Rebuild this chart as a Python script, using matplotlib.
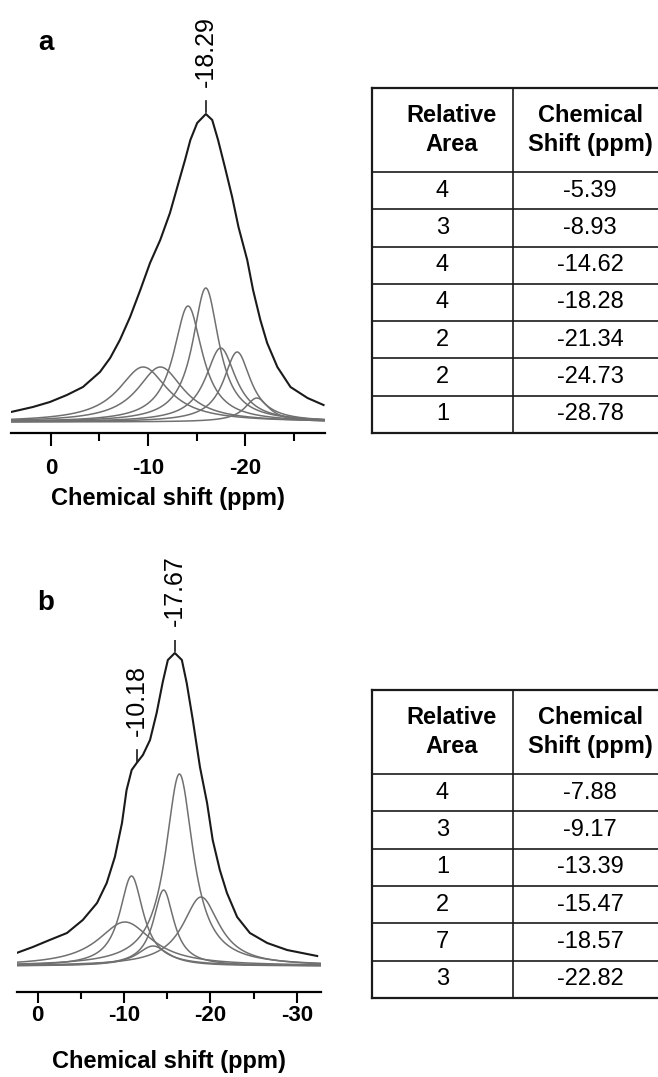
import numpy as np
import matplotlib
matplotlib.use('Agg')
import matplotlib.pyplot as plt

plt.rcParams['font.family'] = ['Liberation Sans', 'DejaVu Sans']

W, H = 658, 1077

#panel a: fitted components (shift and relative area as in the fit table)
a_shift = [-5.39, -8.93, -14.62, -18.28, -21.34, -24.73, -28.78]
a_area = [4, 3, 4, 4, 2, 2, 1]
#component heights (intensity) and full widths at half height (ppm)
a_height = [55, 55, 116, 134, 74, 70, 24]
a_fwhm = [12.4, 11.6, 7.2, 6.6, 7.6, 6.8, 6.0]
#measured spectrum (shift, intensity)
a_spec_x = [21.8, 17.3, 13.8, 10.3, 7.0, 3.5, 1.4, -0.6, -2.7, -4.8, -6.8, -8.9,
            -10.9, -13.0, -14.0, -15.1, -16.5, -18.29, -19.6, -20.8, -22.2, -23.7,
            -25.0, -26.8, -28.0, -29.5, -30.9, -33.0, -35.7, -39.2, -42.5]
a_spec_y = [10, 15, 20, 27, 35, 50, 64, 82, 105, 132, 159, 182,
            209, 245, 262, 282, 299, 308, 302, 282, 255, 225,
            195, 162, 132, 102, 79, 55, 35, 24, 17]
a_peaks = [-18.29]
a_ticks = [0, -10, -20]
a_minor = [-5, -15, -25]

#panel b
b_shift = [-7.88, -9.17, -13.39, -15.47, -18.57, -22.82]
b_area = [4, 3, 1, 2, 7, 3]
b_height = [44, 90, 20, 76, 192, 69]
b_fwhm = [13.0, 5.6, 7.6, 4.9, 6.6, 8.8]
b_spec_x = [13.4, 10.2, 6.9, 3.5, 0.4, -2.4, -4.3, -5.9, -7.3, -8.2, -9.2, -10.18,
            -11.4, -12.8, -14.1, -15.3, -16.3, -17.67, -19.05, -20.0, -21.2, -22.6,
            -24.0, -25.1, -26.5, -27.9, -29.9, -32.4, -35.8, -39.7, -45.6]
b_spec_y = [13, 19, 26, 33, 46, 63, 83, 109, 143, 176, 196, 203,
            211, 226, 253, 284, 306, 313, 306, 283, 246, 199,
            163, 126, 96, 73, 49, 33, 23, 16, 10]
b_peaks = [-10.18, -17.67]
b_ticks = [0, -10, -20, -30]
b_minor = [-5, -15, -25]

fig = plt.figure(figsize=(W / 100, H / 100), dpi=100)


def px_box(l, t, r, b):
    return [l / W, 1 - b / H, (r - l) / W, (b - t) / H]


def lorentz(x, c, h, fwhm):
    return h / (1 + ((x - c) / (fwhm / 2)) ** 2)


def draw_spectrum(box, ylim, scale, offset, xlim, shift, height, fwhm, spec_x, spec_y,
                  ticks, minor, peaks, tick_len, pad, labelpad):
    ax = fig.add_axes(px_box(*box))
    #axis scale -> shift used by the fit
    to_data = lambda v: (np.asarray(v, float) - offset) / scale
    lo, hi = to_data(xlim)
    x = np.linspace(hi, lo, 900)
    for c, h, w in zip(shift, height, fwhm):
        ax.plot(x, lorentz(x, c, h, w), color='#707070', lw=1.1)
    ax.plot(spec_x, spec_y, color='#1a1a1a', lw=1.5, solid_joinstyle='round')

    #peak markers
    for p in peaks:
        yp = np.interp(p, spec_x[::-1], spec_y[::-1])
        ax.plot([p, p], [yp + 2, yp + 13], color='#1a1a1a', lw=1.2)
        ax.text(p, yp + 27, '%.2f' % p, rotation=90, ha='center', va='bottom',
                fontsize=18)

    ax.set_xlim(lo, hi)
    ax.set_ylim(*ylim)
    for s in ['top', 'right', 'left']:
        ax.spines[s].set_visible(False)
    ax.spines['bottom'].set_linewidth(1.6)
    ax.set_yticks([])
    ax.set_xticks(to_data(ticks))
    ax.set_xticklabels([str(t) for t in ticks], fontsize=16, fontweight='bold')
    ax.set_xticks(to_data(minor), minor=True)
    ax.tick_params(axis='x', which='major', direction='out', length=tick_len,
                   width=1.5, pad=pad)
    ax.tick_params(axis='x', which='minor', direction='out', length=tick_len * 0.6,
                   width=1.5)
    ax.set_xlabel('Chemical shift (ppm)', fontsize=17, fontweight='bold',
                  labelpad=labelpad)
    return ax


def draw_table(box, areas, shifts):
    ax = fig.add_axes(px_box(*box))
    n = len(areas)
    head = 2.25
    split = 0.478
    ax.set_xlim(0, 1)
    ax.set_ylim(n + head, 0)
    ax.axis('off')
    kw = dict(color='#1a1a1a', clip_on=False)
    for y in [0, n + head]:
        ax.plot([0, 1], [y, y], lw=1.6, **kw)
    for i in range(n):
        ax.plot([0, 1], [head + i, head + i], lw=1.2, **kw)
    ax.plot([0, 0], [0, n + head], lw=1.6, **kw)
    ax.plot([split, split], [0, n + head], lw=1.2, **kw)

    ax.text(split / 2 + 0.03, head / 2, 'Relative\nArea', ha='center', va='center',
            fontsize=17, fontweight='bold', linespacing=1.3)
    ax.text((split + 1) / 2, head / 2, 'Chemical\nShift (ppm)', ha='center',
            va='center', fontsize=17, fontweight='bold', linespacing=1.3)
    for i, (ar, sh) in enumerate(zip(areas, shifts)):
        yc = head + i + 0.5
        ax.text(split / 2, yc, str(ar), ha='center', va='center', fontsize=17)
        ax.text((split + 1) / 2, yc, '%.2f' % sh, ha='center', va='center', fontsize=17)


draw_spectrum((11, 100, 325, 433), (-11, 322), 0.5, -6.8, (4.1, -28.2),
              a_shift, a_height, a_fwhm, a_spec_x, a_spec_y,
              a_ticks, a_minor, a_peaks, 9.5, 8.5, 6)
draw_table((372, 88, 667, 433), a_area, a_shift)

draw_spectrum((17, 640, 321, 992), (-26, 326), 0.59, -5.45, (2.4, -32.8),
              b_shift, b_height, b_fwhm, b_spec_x, b_spec_y,
              b_ticks, b_minor, b_peaks, 8, 1.5, 17)
draw_table((372, 690, 667, 998), b_area, b_shift)

#panel letters
fig.text(38 / W, 1 - 50 / H, 'a', fontsize=20, fontweight='bold', va='baseline')
fig.text(37 / W, 1 - 610 / H, 'b', fontsize=20, fontweight='bold', va='baseline')

fig.savefig('out.png', dpi=100)
